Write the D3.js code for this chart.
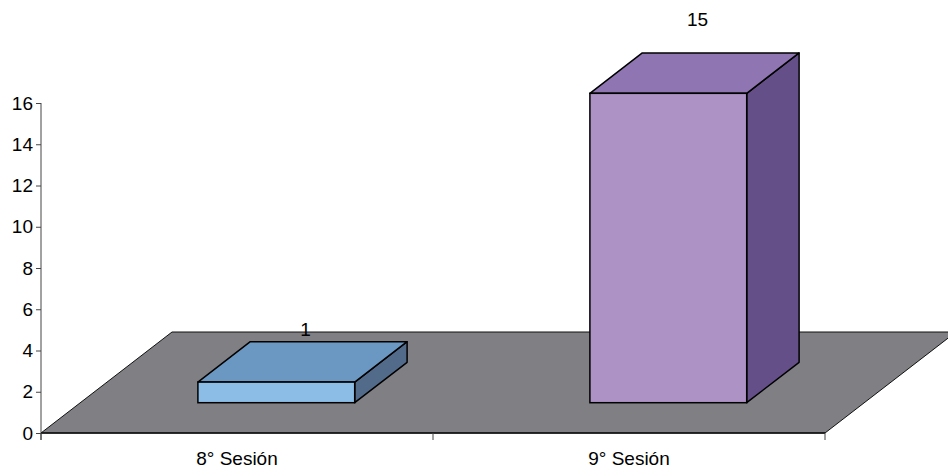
<!DOCTYPE html>
<html>
<head>
<meta charset="utf-8">
<script src="https://cdn.jsdelivr.net/npm/d3@7"></script>
<style>
  html, body { margin: 0; padding: 0; background: #ffffff; }
  svg { display: block; }
  text { font-family: "Liberation Sans", Arial, sans-serif; fill: #000; }
</style>
</head>
<body>
<script>
// ---- data ----
const categories = ["8° Sesión", "9° Sesión"];
const values = [1, 15];
const yTicks = [0, 2, 4, 6, 8, 10, 12, 14, 16];

// ---- styles ----
const frontColors = ["#8bbde6", "#ad92c5"];
const topColors   = ["#6b98c2", "#8f75b1"];
const sideColors  = ["#526b8b", "#654f88"];
const labelGap    = [6, 27];

const W = 948, H = 468;
const svg = d3.select("body").append("svg").attr("width", W).attr("height", H);

const x = d3.scaleBand().domain(categories).range([41, 825]).paddingInner(0).paddingOuter(0);
const y = d3.scaleLinear().domain([0, 16]).range([433, 103]);

const D = { x: 131, y: -101 };       // full floor depth vector
const dFront = 0.3, dBack = 0.7;     // bar depth placement
const barFrac = 0.4;

// floor
const y0 = y(0);
const floorPts = [
  [x.range()[0], y0],
  [x.range()[1], y0],
  [x.range()[1] + D.x, y0 + D.y],
  [x.range()[0] + D.x, y0 + D.y]
];
svg.append("polygon")
  .attr("points", floorPts.map(p => p.join(",")).join(" "))
  .attr("fill", "#7f7f84")
  .attr("stroke", "#111")
  .attr("stroke-width", 1);

// y axis
const yAxis = d3.axisLeft(y).tickValues(yTicks).tickSize(5).tickPadding(3);
const gy = svg.append("g").attr("transform", "translate(41,0)").call(yAxis);
gy.select(".domain").attr("d", `M0,${y(16)}V${y0 + 7}`).attr("stroke", "#444");
gy.selectAll(".tick line").attr("stroke", "#444");
gy.selectAll(".tick text").style("font-size", "19px").style("font-family", "Liberation Sans, Arial, sans-serif").attr("fill", "#000");

// x axis ticks and front line
svg.append("line").attr("x1", x.range()[0]).attr("x2", x.range()[1]).attr("y1", y0).attr("y2", y0)
  .attr("stroke", "#111").attr("stroke-width", 1.5);
const bounds = [x.range()[0]].concat(categories.map(c => x(c) + x.bandwidth()));
svg.selectAll("line.xtick").data(bounds).enter().append("line")
  .attr("class", "xtick")
  .attr("x1", d => d).attr("x2", d => d)
  .attr("y1", y0).attr("y2", y0 + 7)
  .attr("stroke", "#444");
svg.selectAll("text.xlab").data(categories).enter().append("text")
  .attr("class", "xlab")
  .attr("x", d => x(d) + x.bandwidth() / 2)
  .attr("y", 465)
  .attr("text-anchor", "middle")
  .style("font-size", "19px")
  .text(d => d);

// bars
const bw = x.bandwidth() * barFrac;
const fx = D.x * dFront, fy = D.y * dFront;
const bdx = D.x * (dBack - dFront), bdy = D.y * (dBack - dFront);

categories.forEach((c, i) => {
  const cx = x(c) + x.bandwidth() / 2 + fx;
  const L = cx - bw / 2, R = cx + bw / 2;
  const B = y(0) + fy, T = y(values[i]) + fy;
  const g = svg.append("g");
  // side
  g.append("polygon")
    .attr("points", [[R, B], [R + bdx, B + bdy], [R + bdx, T + bdy], [R, T]].map(p => p.join(",")).join(" "))
    .attr("fill", sideColors[i]).attr("stroke", "#000").attr("stroke-width", 1.5).attr("stroke-linejoin", "round");
  // top
  g.append("polygon")
    .attr("points", [[L, T], [R, T], [R + bdx, T + bdy], [L + bdx, T + bdy]].map(p => p.join(",")).join(" "))
    .attr("fill", topColors[i]).attr("stroke", "#000").attr("stroke-width", 1.5).attr("stroke-linejoin", "round");
  // front
  g.append("rect")
    .attr("x", L).attr("y", T).attr("width", bw).attr("height", B - T)
    .attr("fill", frontColors[i]).attr("stroke", "#000").attr("stroke-width", 1.5);
  // label
  svg.append("text")
    .attr("x", cx + bdx / 2 + 3)
    .attr("y", T + bdy - labelGap[i])
    .attr("text-anchor", "middle")
    .style("font-size", "19px")
    .text(values[i]);
});
</script>
</body>
</html>
